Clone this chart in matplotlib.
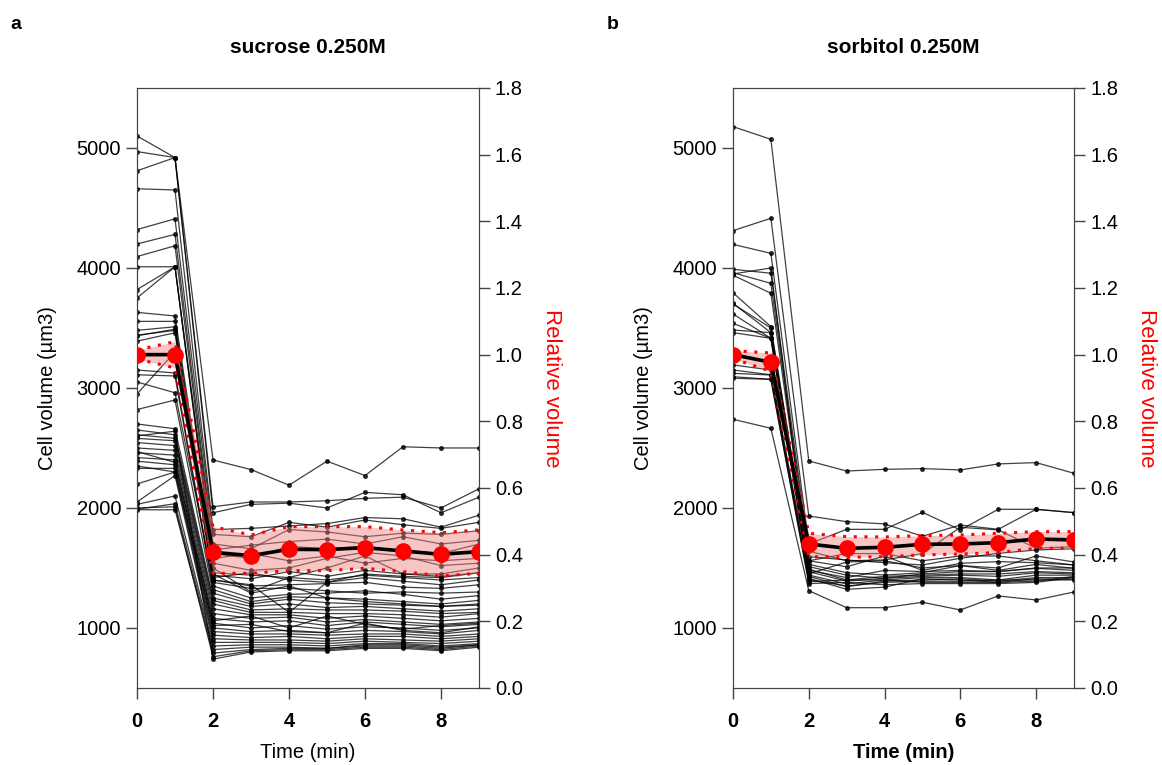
import numpy as np
import matplotlib
matplotlib.use("Agg")
import matplotlib.pyplot as plt

plt.rcParams['font.family'] = ['Liberation Sans', 'DejaVu Sans']

time_min = [0, 1, 2, 3, 4, 5, 6, 7, 8, 9]

# individual cells, sucrose 0.250M (cell volume, um3)
cells_sucrose = [
    [5100, 4920, 2400, 2320, 2190, 2390, 2270, 2510, 2500, 2500],
    [4970, 4920, 2010, 2050, 2050, 2060, 2080, 2090, 2000, 2160],
    [4810, 4920, 1960, 2030, 2040, 2000, 2130, 2110, 1960, 2090],
    [4660, 4650, 1820, 1830, 1850, 1870, 1920, 1910, 1840, 1940],
    [4320, 4410, 1780, 1760, 1880, 1840, 1900, 1860, 1830, 1880],
    [4200, 4280, 1700, 1660, 1820, 1800, 1760, 1790, 1780, 1810],
    [4095, 4185, 1650, 1690, 1720, 1740, 1700, 1760, 1700, 1730],
    [4010, 4010, 1620, 1580, 1680, 1660, 1680, 1640, 1620, 1700],
    [3820, 4010, 1580, 1620, 1560, 1600, 1540, 1580, 1560, 1580],
    [3750, 4010, 1540, 1480, 1500, 1580, 1630, 1600, 1520, 1540],
    [3630, 3600, 1500, 1300, 1420, 1500, 1600, 1450, 1450, 1500],
    [3555, 3555, 1460, 1440, 1420, 1400, 1440, 1420, 1400, 1420],
    [3480, 3510, 1420, 1460, 1400, 1380, 1420, 1390, 1360, 1400],
    [3435, 3490, 1400, 1350, 1360, 1370, 1380, 1340, 1330, 1360],
    [3390, 3460, 1380, 1330, 1330, 1310, 1290, 1300, 1290, 1300],
    [3150, 3125, 1350, 1250, 1280, 1290, 1310, 1280, 1240, 1270],
    [3110, 3100, 1320, 1220, 1260, 1250, 1240, 1220, 1200, 1230],
    [2820, 2900, 1290, 1200, 1240, 1210, 1200, 1190, 1180, 1200],
    [2700, 2660, 1250, 1180, 1200, 1170, 1180, 1160, 1140, 1160],
    [2650, 2610, 1230, 1150, 1160, 1150, 1150, 1140, 1120, 1130],
    [2610, 2580, 1200, 1130, 1130, 1120, 1120, 1110, 1090, 1120],
    [2580, 2560, 1160, 1110, 1110, 1080, 1100, 1080, 1060, 1080],
    [2545, 2520, 1120, 1080, 1090, 1050, 1070, 1050, 1030, 1050],
    [2500, 2480, 1080, 1050, 1060, 1020, 1050, 1030, 1010, 1030],
    [2460, 2440, 1040, 1000, 1020, 990, 1010, 1000, 980, 1000],
    [2420, 2400, 1000, 970, 980, 960, 980, 970, 950, 980],
    [2390, 2360, 970, 950, 950, 940, 950, 950, 930, 950],
    [2330, 2330, 940, 920, 930, 910, 930, 930, 910, 930],
    [2200, 2300, 910, 900, 900, 890, 910, 900, 890, 910],
    [2050, 2270, 880, 880, 880, 870, 890, 880, 870, 890],
    [2030, 2100, 850, 860, 860, 850, 870, 870, 850, 870],
    [1990, 2035, 820, 840, 840, 830, 860, 860, 840, 860],
    [1985, 1985, 790, 820, 830, 830, 850, 850, 830, 860],
    [2000, 2010, 760, 810, 820, 820, 840, 840, 820, 850],
    [2600, 2640, 740, 800, 810, 810, 830, 830, 810, 840],
    [3050, 2960, 1400, 1360, 1130, 1380, 1450, 1430, 1420, 1460],
    [2950, 3300, 1450, 1290, 1350, 1250, 1220, 1200, 1180, 1190],
    [2470, 2380, 1060, 1100, 1000, 1100, 1030, 990, 1020, 1040],
    [3440, 3480, 1440, 1410, 1470, 1430, 1480, 1450, 1430, 1460],
    [2350, 2300, 1020, 1030, 970, 960, 1040, 980, 960, 1010],
]

# individual cells, sorbitol 0.250M
cells_sorbitol = [
    [5178, 5072, 2392, 2308, 2322, 2328, 2317, 2367, 2378, 2289],
    [4311, 4414, 1933, 1886, 1867, 1764, 1858, 1822, 1989, 1961],
    [4197, 4122, 1700, 1822, 1822, 1964, 1817, 1989, 1989, 1961],
    [3989, 3956, 1640, 1560, 1567, 1620, 1839, 1817, 1664, 1678],
    [3960, 3872, 1594, 1567, 1544, 1525, 1581, 1622, 1650, 1660],
    [3940, 3789, 1560, 1510, 1600, 1480, 1539, 1553, 1544, 1525],
    [3794, 3511, 1530, 1461, 1441, 1460, 1520, 1480, 1530, 1497],
    [3706, 3461, 1511, 1440, 1414, 1450, 1470, 1470, 1497, 1480],
    [3617, 3414, 1490, 1400, 1430, 1440, 1450, 1450, 1470, 1460],
    [3539, 3414, 1469, 1390, 1414, 1430, 1440, 1430, 1460, 1450],
    [3483, 3461, 1441, 1367, 1400, 1420, 1420, 1400, 1440, 1440],
    [3461, 3414, 1430, 1344, 1390, 1400, 1410, 1390, 1420, 1420],
    [3192, 3150, 1414, 1322, 1340, 1410, 1400, 1380, 1410, 1405],
    [3122, 3108, 1400, 1350, 1380, 1390, 1390, 1400, 1400, 1400],
    [3094, 3072, 1386, 1400, 1400, 1380, 1380, 1380, 1390, 1430],
    [3081, 3072, 1370, 1380, 1360, 1370, 1370, 1370, 1380, 1420],
    [2739, 2664, 1311, 1169, 1169, 1214, 1150, 1267, 1233, 1300],
    [3700, 3500, 1560, 1620, 1620, 1560, 1600, 1600, 1560, 1525],
    [3950, 4000, 1450, 1550, 1560, 1500, 1520, 1500, 1600, 1550],
    [3150, 3110, 1480, 1420, 1480, 1470, 1480, 1470, 1500, 1500],
]

# mean relative volume and band (upper / lower)
rel_sucrose = [1.0, 1.0, 0.407, 0.397, 0.416, 0.415, 0.421, 0.411, 0.401, 0.409]
rel_sucrose_hi = [1.014, 1.039, 0.484, 0.459, 0.484, 0.484, 0.484, 0.474, 0.466, 0.474]
rel_sucrose_lo = [0.987, 0.960, 0.344, 0.344, 0.352, 0.352, 0.359, 0.349, 0.336, 0.344]

rel_sorbitol = [1.0, 0.977, 0.432, 0.419, 0.422, 0.431, 0.432, 0.436, 0.447, 0.444]
rel_sorbitol_hi = [1.012, 1.005, 0.464, 0.454, 0.453, 0.457, 0.459, 0.464, 0.469, 0.469]
rel_sorbitol_lo = [0.988, 0.950, 0.394, 0.392, 0.394, 0.399, 0.402, 0.406, 0.419, 0.419]

panels = [
    ("a", "sucrose 0.250M", cells_sucrose, rel_sucrose, rel_sucrose_hi, rel_sucrose_lo, False),
    ("b", "sorbitol 0.250M", cells_sorbitol, rel_sorbitol, rel_sorbitol_hi, rel_sorbitol_lo, True),
]

fig = plt.figure(figsize=(11.62, 7.65), dpi=100)
boxes = [[0.1179, 0.1007, 0.2943, 0.7843], [0.6308, 0.1007, 0.2935, 0.7843]]
spine_col = "#444444"
fs = 14.5

for (letter, title, cells, rel, hi, lo, bold_xlabel), box in zip(panels, boxes):
    ax = fig.add_axes(box)
    for c in cells:
        ax.plot(time_min, c, color="black", lw=0.9, alpha=0.75,
                marker="o", ms=2.6, mec="black", mfc="black")
    ax.set_xlim(0, 9)
    ax.set_ylim(500, 5500)
    ax.set_xticks([0, 2, 4, 6, 8])
    ax.set_yticks([1000, 2000, 3000, 4000, 5000])
    for lab in ax.get_xticklabels():
        lab.set_fontweight("bold")
    ax.tick_params(labelsize=fs, length=8, color=spine_col, width=1)
    ax.tick_params(axis="x", pad=9)
    ax.set_ylabel("Cell volume (µm3)", fontsize=fs, labelpad=14)
    ax.set_xlabel("Time (min)", fontsize=fs,
                  fontweight="bold" if bold_xlabel else "normal", labelpad=9)
    ax.set_title(title, fontsize=15, fontweight="bold", pad=25)
    for s in ax.spines.values():
        s.set_color(spine_col)

    ax2 = ax.twinx()
    ax2.fill_between(time_min, lo, hi, color="#f08080", alpha=0.45, lw=0)
    ax2.plot(time_min, hi, color="red", ls=(0, (1, 2.5)), lw=2.2)
    ax2.plot(time_min, lo, color="red", ls=(0, (1, 2.5)), lw=2.2)
    ax2.plot(time_min, rel, color="black", lw=2.6, zorder=5)
    ax2.plot(time_min, rel, ls="none", marker="o", ms=11, color="red", zorder=6)
    ax2.set_ylim(0, 1.8)
    ax2.set_yticks(np.arange(0, 1.81, 0.2))
    ax2.set_yticklabels(["%.1f" % v for v in np.arange(0, 1.81, 0.2)])
    ax2.tick_params(labelsize=fs, length=8, color=spine_col, width=1)
    ax2.set_ylabel("Relative volume", fontsize=16, color="red", rotation=-90, labelpad=28)
    for s in ax2.spines.values():
        s.set_color(spine_col)
    ax2.set_xlim(0, 9)

    fig.text(box[0] - 0.109, 0.968, letter, fontsize=14, fontweight="bold", va="center")

fig.savefig("out.png", dpi=100)
